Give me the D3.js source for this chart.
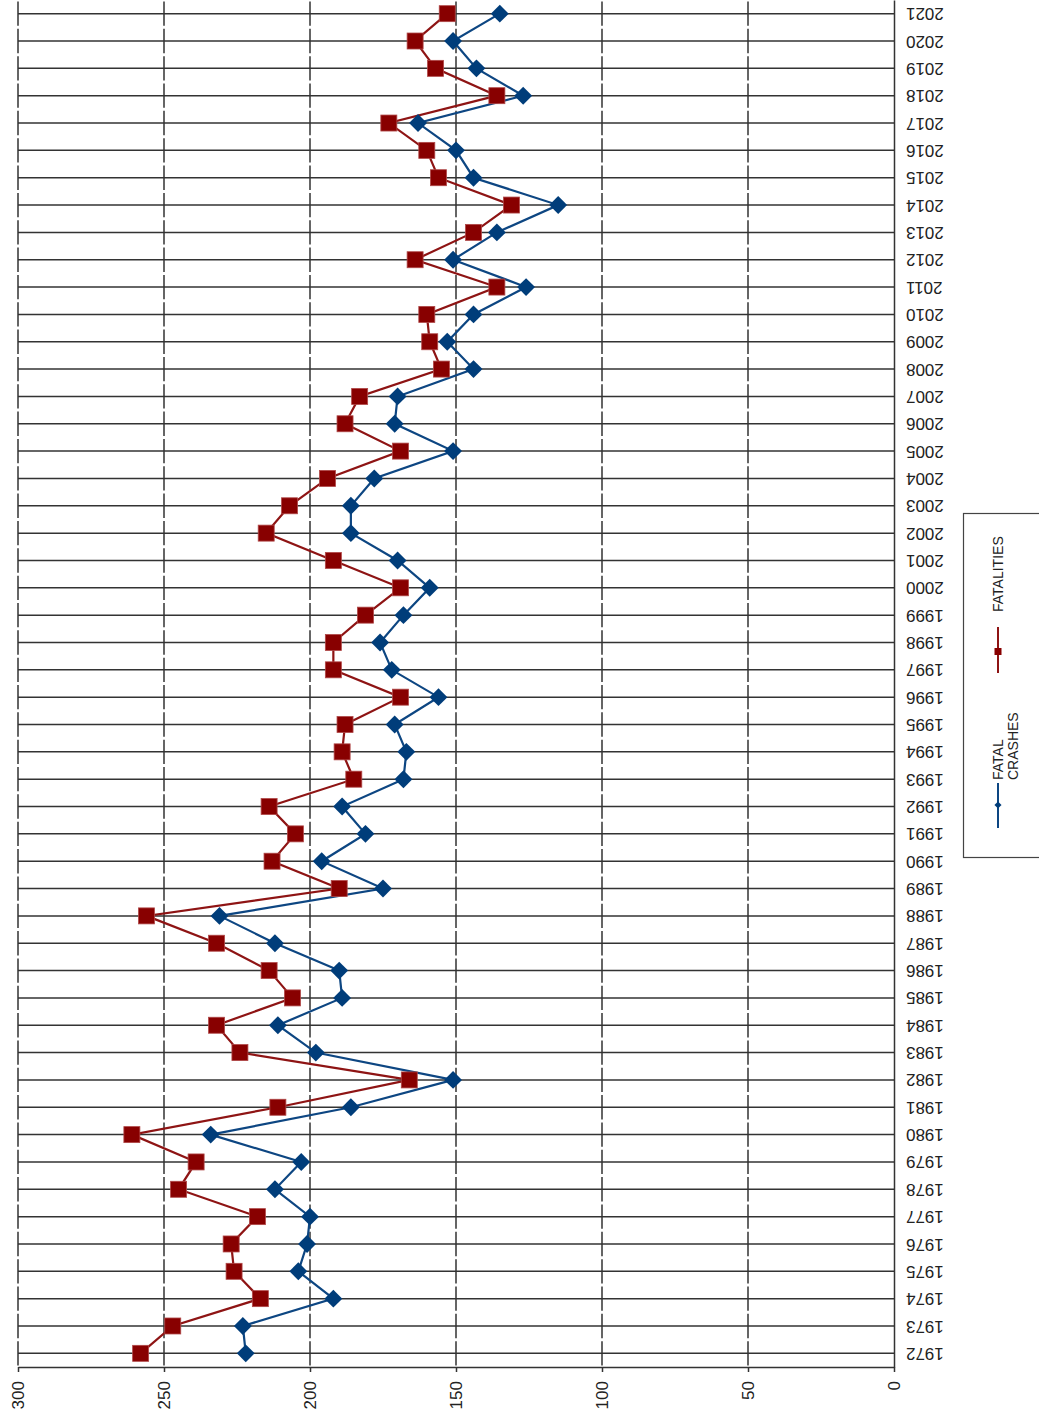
<!DOCTYPE html>
<html>
<head>
<meta charset="utf-8">
<script src="https://cdn.jsdelivr.net/npm/d3@7"></script>
<style>
  html, body { margin: 0; padding: 0; background: #fff; }
  svg { display: block; font-family: "Liberation Sans", Arial, sans-serif; }
</style>
</head>
<body>
<svg id="chart" width="1039" height="1422"></svg>
<script>
const years = [1972,1973,1974,1975,1976,1977,1978,1979,1980,1981,1982,1983,1984,1985,1986,1987,1988,1989,1990,1991,1992,1993,1994,1995,1996,1997,1998,1999,2000,2001,2002,2003,2004,2005,2006,2007,2008,2009,2010,2011,2012,2013,2014,2015,2016,2017,2018,2019,2020,2021];
const fatalCrashes = [222,223,192,204,201,200,212,203,234,186,151,198,211,189,190,212,231,175,196,181,189,168,167,171,156,172,176,168,159,170,186,186,178,151,171,170,144,153,144,126,151,136,115,144,150,163,127,143,151,135];
const fatalities = [258,247,217,226,227,218,245,239,261,211,166,224,232,206,214,232,256,190,213,205,214,185,189,188,169,192,192,181,169,192,215,207,194,169,188,183,155,159,160,136,164,144,131,156,160,173,136,157,164,153];
const valueTicks = [0,50,100,150,200,250,300];
const seriesNames = ["FATAL CRASHES", "FATALITIES"];

const svg = d3.select("#chart");
const plot = { left: 18, right: 894, top: 0, bottom: 1367 };

// value axis runs horizontally (300 on the left, 0 on the right)
const x = d3.scaleLinear().domain([0, 300]).range([plot.right, plot.left]);
// years run vertically (1972 at the bottom)
const y = d3.scalePoint().domain(years).range([plot.bottom, plot.top]).padding(0.5);
const step = y.step();

const gridColor = "#333";

// horizontal grid lines (one per year)
svg.append("g").selectAll("line").data(years).join("line")
  .attr("x1", plot.left).attr("x2", plot.right)
  .attr("y1", d => y(d)).attr("y2", d => y(d))
  .attr("stroke", gridColor).attr("stroke-width", 1.5);

// vertical dashed grid lines
svg.append("g").selectAll("line").data(valueTicks.filter(v => v > 0)).join("line")
  .attr("x1", d => x(d)).attr("x2", d => x(d))
  .attr("y1", plot.top).attr("y2", plot.bottom)
  .attr("stroke", gridColor).attr("stroke-width", 1.5)
  .attr("stroke-dasharray", `${step - 3},3`)
  .attr("stroke-dashoffset", -1.5);

// value axis (bottom)
const vAxis = svg.append("g")
  .attr("transform", `translate(0,${plot.bottom})`)
  .call(d3.axisBottom(x).tickValues(valueTicks).tickSize(5).tickSizeOuter(0));
vAxis.select(".domain").attr("stroke", gridColor).attr("stroke-width", 1.5);
vAxis.selectAll(".tick line").attr("stroke", gridColor).attr("stroke-width", 1.5);
vAxis.selectAll(".tick text")
  .attr("transform", "rotate(-90)")
  .attr("text-anchor", "end")
  .attr("x", -14).attr("y", 0).attr("dy", "0.35em")
  .attr("font-size", 17)
  .attr("font-family", "Liberation Sans, Arial, sans-serif")
  .attr("fill", "#222");

// year axis (right)
const yAxis = svg.append("g")
  .attr("transform", `translate(${plot.right},0)`)
  .call(d3.axisRight(y).tickSize(0).tickSizeOuter(0).tickFormat(d3.format("d")));
yAxis.select(".domain").attr("stroke", gridColor).attr("stroke-width", 1.5);
yAxis.selectAll(".tick text")
  .attr("transform", "rotate(180)")
  .attr("text-anchor", "end")
  .attr("x", -12).attr("y", 0).attr("dy", "0.35em")
  .attr("font-size", 17)
  .attr("font-family", "Liberation Sans, Arial, sans-serif")
  .attr("fill", "#222");

const blue = "#0d4682", blueMark = "#003d7a";
const red = "#8e1414", redMark = "#880000";

function drawSeries(values, lineColor) {
  const data = years.map((yr, i) => ({ yr, v: values[i] }));
  svg.append("path").datum(data)
    .attr("fill", "none").attr("stroke", lineColor).attr("stroke-width", 2.2)
    .attr("d", d3.line().x(d => x(d.v)).y(d => y(d.yr)));
  return data;
}

const blueData = drawSeries(fatalCrashes, blue);
const redData = drawSeries(fatalities, red);

svg.append("g").selectAll("path").data(blueData).join("path")
  .attr("d", d3.symbol().type(d3.symbolSquare).size(160)())
  .attr("transform", d => `translate(${x(d.v)},${y(d.yr)}) rotate(45)`)
  .attr("fill", blueMark);

svg.append("g").selectAll("rect").data(redData).join("rect")
  .attr("x", d => x(d.v) - 8).attr("y", d => y(d.yr) - 8)
  .attr("width", 16).attr("height", 16)
  .attr("fill", redMark).attr("stroke", "#b04848").attr("stroke-width", 0.8);

// legend
const legend = svg.append("g");
legend.append("rect")
  .attr("x", 963.5).attr("y", 513.5).attr("width", 90).attr("height", 344)
  .attr("fill", "#fff").attr("stroke", "#444").attr("stroke-width", 1.2);

const lx = 998;
// fatal crashes entry
legend.append("line").attr("x1", lx).attr("x2", lx).attr("y1", 783).attr("y2", 828)
  .attr("stroke", blue).attr("stroke-width", 2);
legend.append("rect").attr("x", lx - 2.5).attr("y", 802.5).attr("width", 5).attr("height", 5)
  .attr("transform", `rotate(45,${lx},805)`).attr("fill", blueMark);
const t1 = legend.append("text")
  .attr("transform", `translate(${lx},780) rotate(-90)`)
  .attr("font-size", 14).attr("fill", "#222").attr("text-anchor", "start");
t1.append("tspan").attr("x", 0).attr("dy", "0.35em").text("FATAL");
t1.append("tspan").attr("x", 0).attr("dy", "1.05em").text("CRASHES");

// fatalities entry
legend.append("line").attr("x1", lx).attr("x2", lx).attr("y1", 627).attr("y2", 673)
  .attr("stroke", red).attr("stroke-width", 2);
legend.append("rect").attr("x", lx - 3.5).attr("y", 648).attr("width", 7).attr("height", 7)
  .attr("fill", redMark);
legend.append("text")
  .attr("transform", `translate(${lx},612) rotate(-90)`)
  .attr("dy", "0.35em")
  .attr("font-size", 14).attr("fill", "#222").attr("text-anchor", "start")
  .text(seriesNames[1]);
</script>
</body>
</html>
